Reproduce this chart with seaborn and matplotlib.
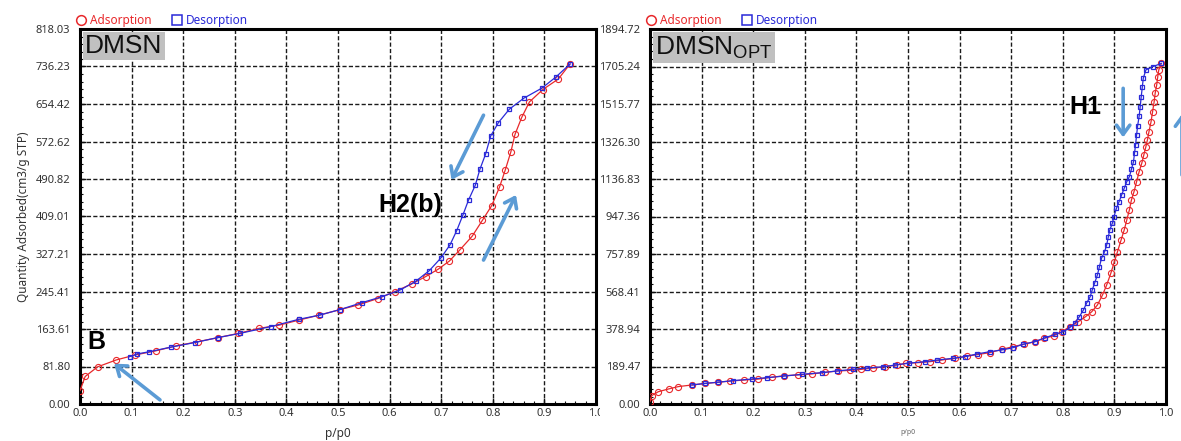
import matplotlib
matplotlib.use("Agg")
import matplotlib.pyplot as plt
from matplotlib.lines import Line2D
from matplotlib.patches import Rectangle
from matplotlib.ticker import AutoMinorLocator
import numpy as np
import seaborn as sns

# ---- isotherm data: DMSN ----
dmsn_ads_p = [0.0, 0.01, 0.034, 0.07, 0.107, 0.147, 0.187, 0.229, 0.268, 0.307, 0.347, 0.386,
              0.424, 0.464, 0.504, 0.539, 0.577, 0.610, 0.643, 0.670, 0.694, 0.716, 0.736, 0.760,
              0.780, 0.798, 0.813, 0.824, 0.835, 0.843, 0.856, 0.871, 0.897, 0.927, 0.950]
dmsn_ads_q = [29, 60, 81, 96, 107, 116, 127, 136, 145, 154, 165, 172,
              183, 194, 206, 216, 230, 245, 262, 278, 294, 312, 336, 366,
              401, 433, 473, 510, 550, 588, 625, 659, 686, 709, 742]
dmsn_des_p = [0.950, 0.922, 0.895, 0.860, 0.832, 0.811, 0.796, 0.786, 0.775, 0.766, 0.753,
              0.742, 0.730, 0.717, 0.699, 0.677, 0.651, 0.621, 0.585, 0.546, 0.504, 0.465,
              0.425, 0.370, 0.310, 0.268, 0.222, 0.176, 0.134, 0.110, 0.096]
dmsn_des_q = [742, 713, 689, 667, 643, 614, 585, 545, 512, 477, 445,
              412, 378, 347, 318, 291, 268, 249, 234, 221, 206, 194,
              185, 169, 154, 145, 134, 124, 114, 109, 103]

# ---- isotherm data: DMSN_OPT ----
opt_ads_p = [0.0, 0.003, 0.016, 0.036, 0.055, 0.081, 0.107, 0.131, 0.156, 0.182, 0.210, 0.236,
             0.260, 0.287, 0.313, 0.339, 0.365, 0.388, 0.409, 0.432, 0.455, 0.478, 0.497, 0.520,
             0.543, 0.565, 0.591, 0.614, 0.636, 0.659, 0.682, 0.704, 0.725, 0.746, 0.764, 0.782,
             0.798, 0.814, 0.830, 0.844, 0.856, 0.867, 0.877, 0.885, 0.893, 0.900, 0.906, 0.913,
             0.919, 0.924, 0.929, 0.933, 0.938, 0.943, 0.948, 0.953, 0.957, 0.961, 0.964, 0.967,
             0.971, 0.974, 0.977, 0.979, 0.982, 0.984, 0.986, 0.991]
opt_ads_q = [12, 42, 62, 76, 88, 96, 104, 110, 116, 121, 126, 135,
             143, 147, 152, 160, 167, 170, 175, 182, 188, 197, 206, 209,
             214, 222, 231, 242, 250, 260, 276, 290, 302, 315, 332, 344,
             365, 391, 416, 441, 466, 500, 551, 601, 660, 719, 770, 829,
             879, 930, 980, 1031, 1073, 1123, 1174, 1216, 1258, 1300, 1334, 1376,
             1426, 1477, 1527, 1570, 1612, 1654, 1688, 1721]
opt_des_p = [0.991, 0.974, 0.961, 0.956, 0.954, 0.952, 0.950, 0.948, 0.945, 0.943, 0.941,
             0.939, 0.937, 0.933, 0.929, 0.924, 0.919, 0.914, 0.909, 0.904, 0.899, 0.896,
             0.891, 0.888, 0.885, 0.881, 0.875, 0.871, 0.867, 0.862, 0.857, 0.853, 0.846,
             0.840, 0.832, 0.824, 0.814, 0.801, 0.785, 0.766, 0.746, 0.723, 0.703, 0.682,
             0.658, 0.634, 0.610, 0.588, 0.556, 0.533, 0.501, 0.475, 0.452, 0.421, 0.394,
             0.362, 0.333, 0.294, 0.260, 0.226, 0.197, 0.161, 0.132, 0.107, 0.081]
opt_des_q = [1721, 1704, 1688, 1646, 1600, 1553, 1502, 1455, 1405, 1359, 1309,
             1267, 1224, 1186, 1149, 1123, 1090, 1056, 1022, 989, 946, 913,
             879, 842, 803, 770, 736, 694, 652, 613, 576, 542, 509,
             475, 441, 411, 387, 365, 352, 335, 315, 302, 284, 273,
             264, 253, 239, 231, 222, 214, 206, 197, 188, 182, 175,
             167, 158, 150, 141, 133, 126, 118, 110, 104, 96]

# ---- axis tick labels ----
x_tick_labels = ["0.0", "0.1", "0.2", "0.3", "0.4", "0.5", "0.6", "0.7", "0.8", "0.9", "1.0"]
dmsn_ymax = 818.03
dmsn_y_labels = ["0.00", "81.80", "163.61", "245.41", "327.21", "409.01",
                 "490.82", "572.62", "654.42", "736.23", "818.03"]
opt_ymax = 1894.72
opt_y_labels = ["0.00", "189.47", "378.94", "568.41", "757.89", "947.36",
                "1136.83", "1326.30", "1515.77", "1705.24", "1894.72"]

RED = "#e8282b"
BLUE = "#2a2ad8"
ARROW = "#5b9bd5"

sns.set_theme(style="white")
plt.rcParams["font.family"] = ["Noto Sans", "DejaVu Sans"]
plt.rcParams["mathtext.fontset"] = "custom"
plt.rcParams["mathtext.rm"] = "Liberation Sans"

W, H = 1181, 441
fig = plt.figure(figsize=(W / 100, H / 100), dpi=100)
axL = fig.add_axes([80 / W, 37 / H, 516 / W, 375 / H])
axR = fig.add_axes([650 / W, 37 / H, 516 / W, 375 / H])
axR.set_zorder(1)
# white backdrop behind the right panel so it sits on top of the left one
fig.add_artist(Rectangle((600 / W, 0), 1 - 600 / W, 1, transform=fig.transFigure,
                         fc="white", ec="none", zorder=0.5))


def draw_panel(ax, ads_p, ads_q, des_p, des_q, ymax, ylabels):
    sns.lineplot(x=ads_p, y=ads_q, ax=ax, sort=False, estimator=None, color=RED, lw=0.9,
                 marker="o", markersize=4.4, markerfacecolor="none", markeredgecolor=RED,
                 markeredgewidth=0.8, zorder=3)
    sns.lineplot(x=des_p, y=des_q, ax=ax, sort=False, estimator=None, color=BLUE, lw=0.9,
                 marker="s", markersize=3.0, markerfacecolor="none", markeredgecolor=BLUE,
                 markeredgewidth=0.9, zorder=4)
    ax.set_xlim(0, 1)
    ax.set_ylim(0, ymax)
    ax.set_xticks(np.linspace(0, 1, 11), x_tick_labels)
    ax.set_yticks(np.arange(11) * ymax / 10, ylabels)
    ax.xaxis.set_minor_locator(AutoMinorLocator(5))
    ax.yaxis.set_minor_locator(AutoMinorLocator(5))
    ax.tick_params(which="major", direction="in", length=4, width=1, colors="#111111",
                   labelcolor="#333333", labelsize=8, left=True, bottom=True)
    ax.tick_params(axis="x", which="major", pad=3)
    ax.tick_params(axis="y", which="major", pad=7)
    ax.tick_params(which="minor", direction="in", length=2.5, width=0.8,
                   left=True, bottom=True, colors="#111111")
    ax.grid(True, which="major", color="#1a1a1a", ls=(0, (3, 1.6)), lw=1)
    for s in ax.spines.values():
        s.set_visible(True)
        s.set_color("black")
        s.set_linewidth(2.2)
    handles = [Line2D([], [], ls="none", marker="o", ms=7, mfc="none", mec=RED, mew=1.1),
               Line2D([], [], ls="none", marker="s", ms=7, mfc="none", mec=BLUE, mew=1.1)]
    ax.legend(handles, ["Adsorption", "Desorption"], loc="lower left",
              bbox_to_anchor=(-0.01, 1.0), ncol=2, frameon=False, fontsize=8.5,
              handlelength=0.8, handletextpad=0.35, columnspacing=1.7,
              borderaxespad=0.05, borderpad=0.1, labelcolor=[RED, BLUE])


draw_panel(axL, dmsn_ads_p, dmsn_ads_q, dmsn_des_p, dmsn_des_q, dmsn_ymax, dmsn_y_labels)
draw_panel(axR, opt_ads_p, opt_ads_q, opt_des_p, opt_des_q, opt_ymax, opt_y_labels)

axL.set_xlabel("p/p0", fontsize=8.5, color="#333333", labelpad=6)
axL.set_ylabel("Quantity Adsorbed(cm3/g STP)", fontsize=8.5, color="#333333", labelpad=4)
axR.set_xlabel("p/p0", fontsize=5, color="#666666", labelpad=7)

box = dict(boxstyle="square,pad=0.08", fc="#c0c0c0", ec="none")
axL.text(0.01, 0.986, "DMSN", transform=axL.transAxes, ha="left", va="top",
         fontsize=19, family="Liberation Sans", color="#111111", bbox=box, zorder=6)
axR.text(0.01, 0.986, r"DMSN$_{\mathrm{OPT}}$", transform=axR.transAxes, ha="left", va="top",
         fontsize=19, family="Liberation Sans", color="#111111", bbox=box, zorder=6)

bold = dict(fontsize=18, fontweight="bold", family="Liberation Sans", color="black",
            ha="center", va="center", zorder=6)
axL.text(0.031, 135, "B", **bold)
axL.text(0.64, 434, "H2(b)", **bold)
axR.text(0.843, 1500, "H1", **bold)

arrow = dict(arrowstyle="->,head_length=0.55,head_width=0.4", color=ARROW, lw=2.6,
             shrinkA=0, shrinkB=0)
axL.annotate("", xy=(0.066, 88), xytext=(0.155, 9), arrowprops=arrow, zorder=7)
axL.annotate("", xy=(0.845, 456), xytext=(0.782, 314), arrowprops=arrow, zorder=7)
axL.annotate("", xy=(0.720, 489), xytext=(0.782, 630), arrowprops=arrow, zorder=7)
axR.annotate("", xy=(0.917, 1347), xytext=(0.917, 1595), arrowprops=arrow, zorder=7)
axR.annotate("", xy=(1.031, 1465), xytext=(1.031, 1157), arrowprops=arrow, zorder=7,
             annotation_clip=False)

fig.savefig("out.png", dpi=100)
